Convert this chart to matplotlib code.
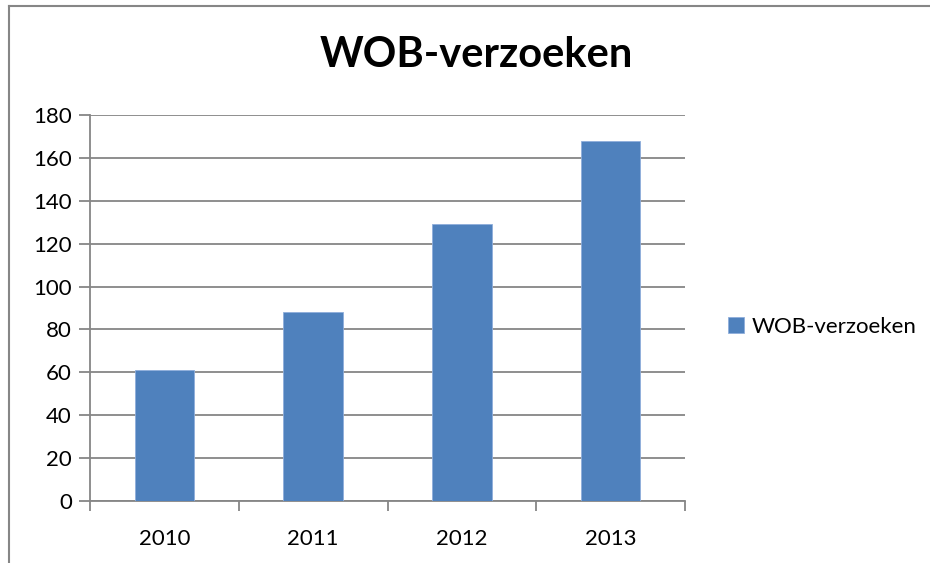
import numpy as np
import matplotlib.pyplot as plt
from matplotlib.lines import Line2D

years = ["2010", "2011", "2012", "2013"]
requests = [61, 88, 129, 168]
series_name = "WOB-verzoeken"

plt.rcParams['font.family'] = ['Lato', 'DejaVu Sans']

fig = plt.figure(figsize=(9.3, 5.63), dpi=100)
ax = fig.add_axes([90 / 930, 1 - 501 / 563, (685 - 90) / 930, (501 - 115) / 563])

# frame lines round the chart area (top and left only)
grey = "#868686"
fig.add_artist(Line2D([9 / 930, 1], [1 - 6 / 563, 1 - 6 / 563], color=grey, lw=1.5))
fig.add_artist(Line2D([9 / 930, 9 / 930], [0, 1 - 6 / 563], color=grey, lw=1.5))

x = np.arange(len(years))
ax.bar(x, requests, width=0.4, color="#4F81BD", edgecolor="#8FAEDB", linewidth=0.6,
       label=series_name, zorder=3)

ax.set_xlim(-0.5, len(years) - 0.5)
ax.set_ylim(0, 180)
ax.set_yticks(np.arange(0, 181, 20))
ax.yaxis.grid(True, color=grey, lw=1.3, zorder=0)

# ticks between categories, labels under each bar
ax.set_xticks(np.arange(-0.5, len(years)), labels=[""] * (len(years) + 1))
ax.set_xticks(x, labels=years, minor=True)
ax.tick_params(axis="x", which="major", direction="out", length=7, color=grey, width=1.3)
ax.tick_params(axis="x", which="minor", length=0, pad=20, labelsize=16)
ax.tick_params(axis="y", direction="out", length=8, color=grey, width=1.3, labelsize=16, pad=5)

for side in ["top", "right"]:
    ax.spines[side].set_visible(False)
for side in ["left", "bottom"]:
    ax.spines[side].set_color(grey)
    ax.spines[side].set_linewidth(1.3)

fig.text(476 / 930, 1 - 55 / 563, "WOB-verzoeken", ha="center", va="center",
         fontsize=30, fontweight="bold")

ax.legend(loc="center left", bbox_to_anchor=(708 / 930, 1 - 327 / 563),
          bbox_transform=fig.transFigure, frameon=False, fontsize=16,
          handlelength=0.7, handleheight=0.7, handletextpad=0.35)

fig.savefig("out.png", dpi=100)
